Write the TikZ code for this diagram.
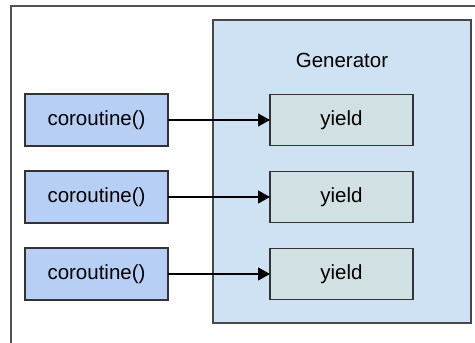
\documentclass[tikz,border=0pt]{standalone}
\usepackage{fontspec}
\setmainfont{Liberation Sans}
\usetikzlibrary{arrows.meta}
\definecolor{corofill}{HTML}{B7CFF5}
\definecolor{genfill}{HTML}{CFE2F3}
\definecolor{yieldfill}{HTML}{D0E0E3}
\definecolor{edgegray}{HTML}{333333}
\begin{document}
\begin{tikzpicture}[x=1pt,y=-1pt,font=\fontsize{20.5}{24}\selectfont,
    corobox/.style={draw=edgegray,line width=1.3pt,fill=corofill,minimum width=143pt,minimum height=52pt,inner sep=0pt,outer sep=0pt},
    yieldbox/.style={draw=edgegray,line width=1.3pt,fill=yieldfill,minimum width=143pt,minimum height=51pt,inner sep=0pt,outer sep=0pt},
    genbox/.style={draw=edgegray!90,line width=1.5pt,fill=genfill,minimum width=258pt,minimum height=303pt,inner sep=0pt}]
  \useasboundingbox (0,0) rectangle (475,343);
  \draw[edgegray!85,line width=1.5pt] (11,343) -- (11,6) -- (475,6);
  \node[genbox] (gen) at (342,171.5) {};
  \node (genlab) at (342,60) {Generator};
  \foreach \k/\y in {1/120,2/197,3/274} {
    \node[corobox] (co\k) at (96.5,\y) {coroutine()};
    \node[yieldbox] (yd\k) at (341.5,\y) {yield};
    \draw[line width=1.2pt,-{Triangle[length=12pt,width=13pt]}] (co\k) -- (yd\k);
  }
\end{tikzpicture}
\end{document}
